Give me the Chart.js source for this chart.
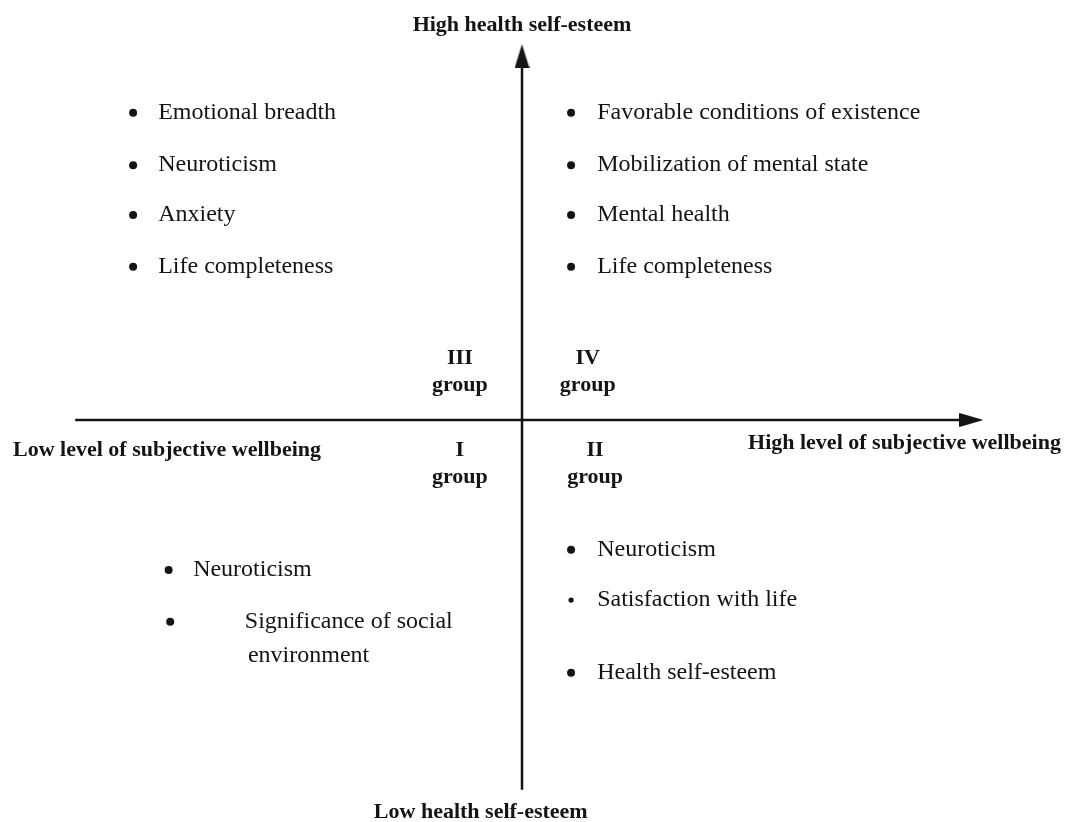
<!DOCTYPE html>
<html>
<head>
<meta charset="utf-8">
<title>Health self-esteem and subjective wellbeing</title>
<script src="https://cdn.jsdelivr.net/npm/chart.js@4.4.1/dist/chart.umd.min.js"></script>
<style>
  html, body { margin: 0; padding: 0; background: #fff; }
  #wrap { width: 1074px; height: 822px; position: relative; }
</style>
</head>
<body>
<div id="wrap"><canvas id="quadrants"></canvas></div>
<script>
// --- data ---
var axisTitles = ['High health self-esteem', 'Low health self-esteem', 'Low level of subjective wellbeing', 'High level of subjective wellbeing'];
var groupNames = ['I', 'II', 'III', 'IV'];
var groupWord = 'group';
var quadrantIII = ['Emotional breadth', 'Neuroticism', 'Anxiety', 'Life completeness'];
var quadrantIV = ['Favorable conditions of existence', 'Mobilization of mental state', 'Mental health', 'Life completeness'];
var quadrantI = [['Neuroticism'], ['Significance of social', 'environment']];
var quadrantII = ['Neuroticism', 'Satisfaction with life', 'Health self-esteem'];

// --- layout (diagram units, -100..100 on both axes) ---
var topRows = [76.4, 63.4, 51.0, 38.1];
var rowsII = [-32.3, -44.8, -62.9];
var rowsI = [-37.3, -50.2];
var lineGap = 8.4;
var inkColor = '#141414';
var itemFont = '24px "Liberation Serif", "Times New Roman", serif';
var boldFont = 'bold 22px "Liberation Serif", "Times New Roman", serif';

function arrowHead(w, h, up) {
    var c = document.createElement('canvas');
    c.width = w; c.height = h;
    var g = c.getContext('2d');
    g.fillStyle = inkColor;
    g.beginPath();
    if (up) {
        g.moveTo(w / 2, 0); g.lineTo(w, h); g.lineTo(0, h);
    } else {
        g.moveTo(0, 0); g.lineTo(w, h / 2); g.lineTo(0, h);
    }
    g.closePath();
    g.fill();
    return c;
}
var arrowRight = arrowHead(24, 14, false);
var arrowUp = arrowHead(15, 24, true);

function bullets(items, xs, rows) {
    var pts = [];
    for (var i = 0; i < items.length; i++) {
        pts.push({x: Array.isArray(xs) ? xs[i] : xs, y: rows[i]});
    }
    return pts;
}

function bulletSet(pts, radius) {
    return {
        data: pts,
        pointRadius: radius,
        pointHoverRadius: radius,
        pointBackgroundColor: inkColor,
        pointBorderWidth: 0,
        showLine: false
    };
}

function axisSet(pts, arrow) {
    return {
        data: pts,
        showLine: true,
        borderColor: inkColor,
        borderWidth: 2.5,
        pointRadius: [0, 8],
        pointHoverRadius: [0, 8],
        pointStyle: ['circle', arrow],
        pointBorderWidth: 0,
        clip: false
    };
}

var textPlugin = {
    id: 'quadrantText',
    afterDatasetsDraw: function (chart) {
        var ctx = chart.ctx;
        var sx = chart.scales.x, sy = chart.scales.y;
        function put(text, x, y, align, font) {
            ctx.font = font;
            ctx.textAlign = align;
            ctx.fillText(text, sx.getPixelForValue(x), sy.getPixelForValue(y));
        }
        ctx.save();
        ctx.fillStyle = inkColor;
        ctx.textBaseline = 'middle';

        // axis titles
        put(axisTitles[0], 0, 98.3, 'center', boldFont);
        put(axisTitles[1], -7.9, -97.5, 'center', boldFont);
        put(axisTitles[2], -97.5, -7.5, 'left', boldFont);
        put(axisTitles[3], 43.3, -5.7, 'left', boldFont);

        // group labels
        put(groupNames[2], -11.9, 15.4, 'center', boldFont);
        put(groupWord, -11.9, 8.7, 'center', boldFont);
        put(groupNames[3], 12.6, 15.4, 'center', boldFont);
        put(groupWord, 12.6, 8.7, 'center', boldFont);
        put(groupNames[0], -11.9, -7.5, 'center', boldFont);
        put(groupWord, -11.9, -14.2, 'center', boldFont);
        put(groupNames[1], 14.0, -7.5, 'center', boldFont);
        put(groupWord, 14.0, -14.2, 'center', boldFont);

        // quadrant items
        quadrantIII.forEach(function (t, i) { put(t, -69.7, topRows[i], 'left', itemFont); });
        quadrantIV.forEach(function (t, i) { put(t, 14.4, topRows[i], 'left', itemFont); });
        quadrantII.forEach(function (t, i) { put(t, 14.4, rowsII[i], 'left', itemFont); });
        var textXI = [-63.0, -53.1];
        quadrantI.forEach(function (lines, i) {
            lines.forEach(function (t, j) {
                put(t, textXI[i] + j * 0.6, rowsI[i] - j * lineGap, 'left', itemFont);
            });
        });
        ctx.restore();
    }
};

var datasets = [
    axisSet([{x: -85.6, y: 0}, {x: 86.1, y: 0}], arrowRight),
    axisSet([{x: 0, y: -92.0}, {x: 0, y: 90.5}], arrowUp),
    bulletSet(bullets(quadrantIII, -74.5, topRows), 4),
    bulletSet(bullets(quadrantIV, 9.4, topRows), 4),
    bulletSet(bullets(quadrantII, 9.4, rowsII), [4, 2.6, 4]),
    bulletSet(bullets(quadrantI, [-67.7, -67.4], rowsI), 4)
];

var ctx = document.getElementById('quadrants');
var chart = new Chart(ctx, {
    type: 'scatter',
    data: { datasets: datasets },
    options: {
        responsive: true,
        maintainAspectRatio: false,
        animation: false,
        events: [],
        layout: { autoPadding: false, padding: { left: 0, right: 30, top: 18, bottom: 0 } },
        plugins: {
            legend: { display: false },
            tooltip: { enabled: false },
            title: { display: false }
        },
        scales: {
            x: { type: 'linear', min: -100, max: 100, display: false },
            y: { type: 'linear', min: -100, max: 100, display: false }
        }
    },
    plugins: [textPlugin]
});
</script>
</body>
</html>
